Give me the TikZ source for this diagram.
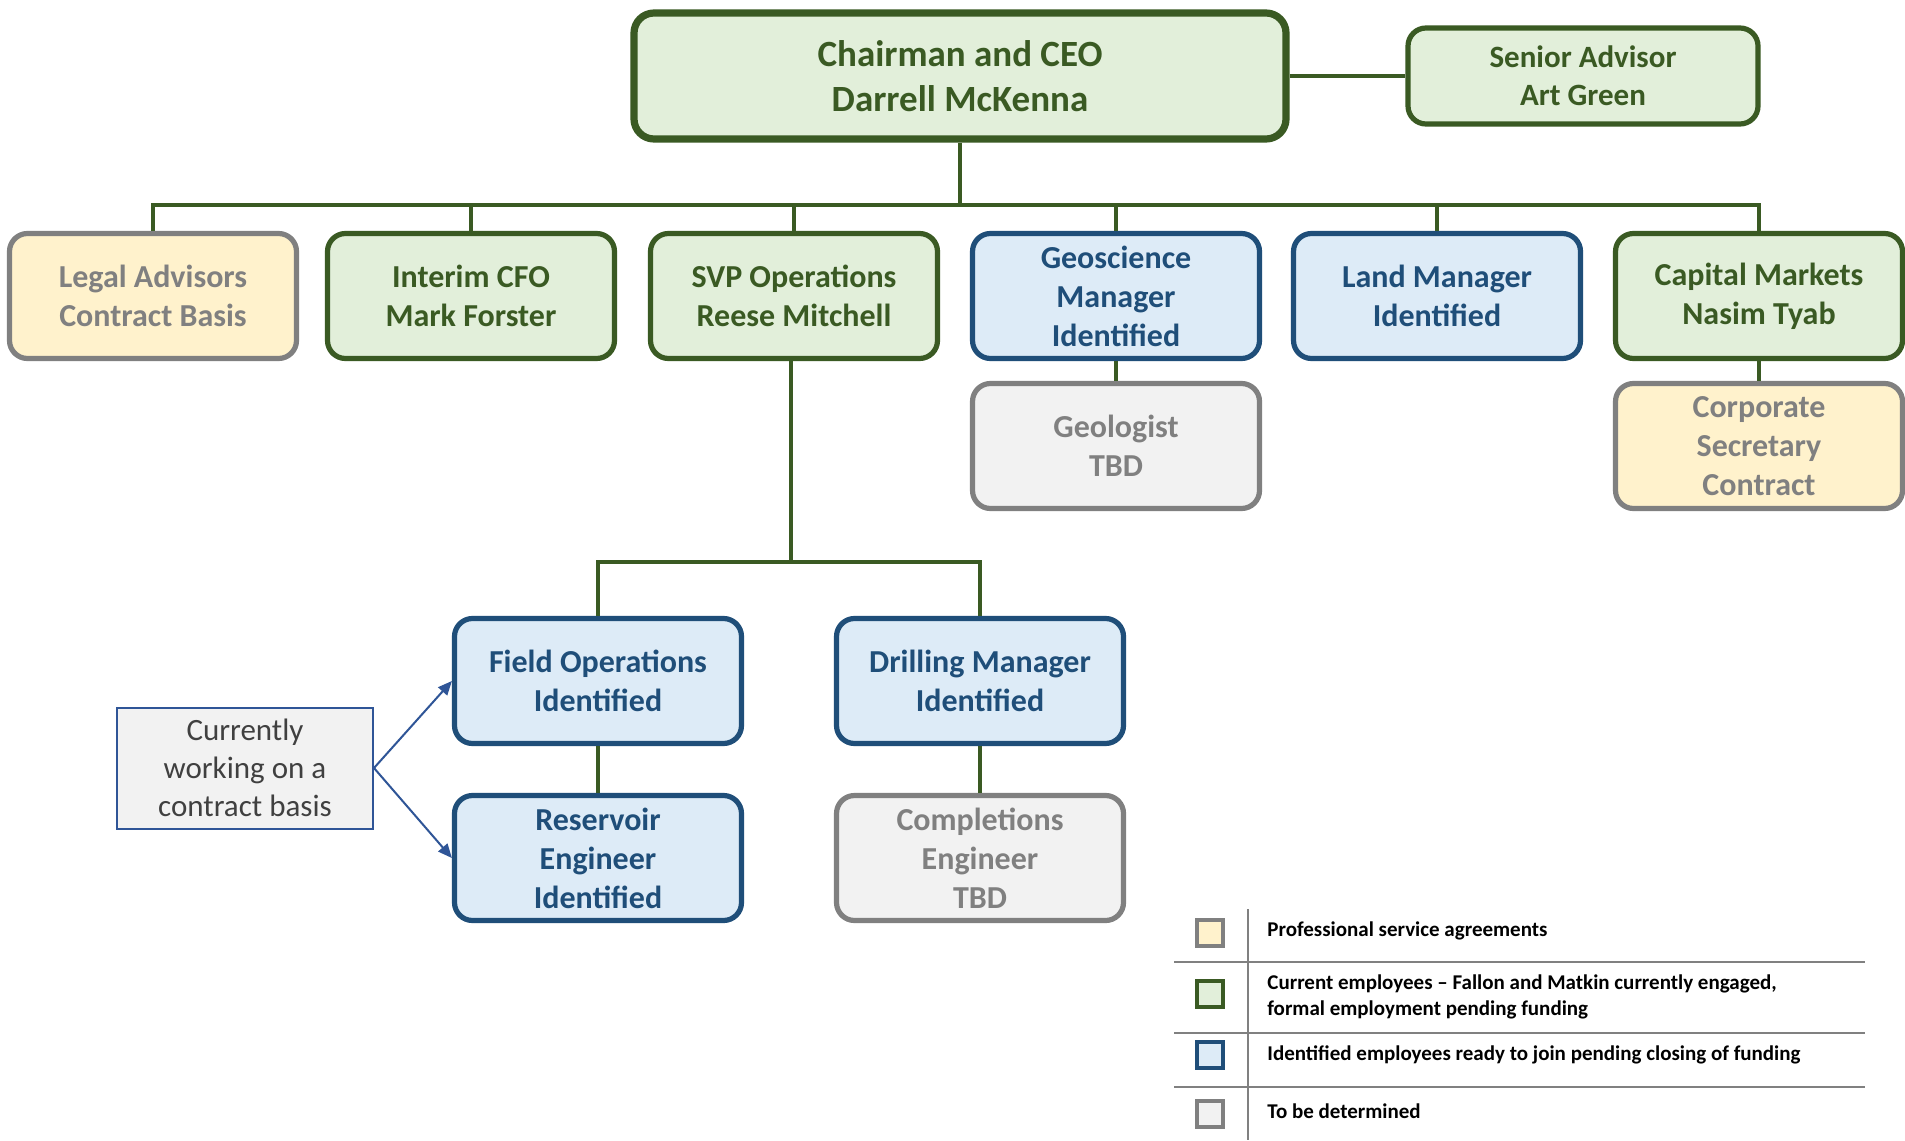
\documentclass[tikz,border=0pt]{standalone}
\usepackage{fontspec}
\setmainfont{Carlito}
\usetikzlibrary{arrows.meta}
\definecolor{gline}{HTML}{3A5A23}
\definecolor{gfill}{HTML}{E2EFDA}
\definecolor{bline}{HTML}{1F4E79}
\definecolor{bfill}{HTML}{DDEBF7}
\definecolor{yfill}{HTML}{FFF2CC}
\definecolor{grline}{HTML}{808080}
\definecolor{grfill}{HTML}{F2F2F2}
\definecolor{nline}{HTML}{2F5597}
\definecolor{ntext}{HTML}{404040}
\tikzset{
  orgbox/.style={rounded corners=9pt, line width=2.6pt, align=center, inner sep=0pt,
    font=\bfseries\fontsize{16}{19.5}\selectfont, minimum width=143.5pt, minimum height=62.5pt},
  gbox/.style={orgbox, draw=gline, fill=gfill, text=gline},
  bbox/.style={orgbox, draw=bline, fill=bfill, text=bline},
  ybox/.style={orgbox, draw=grline, fill=yfill, text=grline},
  tbox/.style={orgbox, draw=grline, fill=grfill, text=grline},
  conn/.style={draw=gline, line width=1.75pt},
  notebox/.style={draw=nline, line width=1pt, fill=grfill, text=ntext, align=center, inner sep=0pt,
    font=\fontsize{15.5}{19}\selectfont, minimum width=128pt, minimum height=60.5pt},
  arr/.style={draw=nline, line width=1pt, -{Triangle[length=7pt,width=6pt]}},
  legsq/.style={minimum size=13pt, line width=2pt, inner sep=0pt},
  legtext/.style={anchor=west, align=left, inner sep=0pt, text=black,
    font=\bfseries\fontsize{10.5}{12.75}\selectfont},
  legline/.style={draw=grline, line width=1.25pt}
}
\begin{document}
\begin{tikzpicture}[x=0.5pt,y=-0.5pt]
\useasboundingbox[fill=white] (0,0) rectangle (1905,1140);

% top
\node[gbox, line width=3.6pt, minimum width=326pt, minimum height=63pt, rounded corners=10pt,
  font=\bfseries\fontsize{18.5}{22.5}\selectfont] (ceo) at (960,76) {Chairman and CEO\\Darrell McKenna};
\node[gbox, minimum width=175pt, minimum height=48pt, font=\bfseries\fontsize{15.5}{19}\selectfont] (adv) at (1583,76) {Senior Advisor\\Art Green};

% row 1
\node[ybox] (legal) at (153,296) {Legal Advisors\\Contract Basis};
\node[gbox] (cfo) at (471,296) {Interim CFO\\Mark Forster};
\node[gbox] (svp) at (794,296) {SVP Operations\\Reese Mitchell};
\node[bbox] (geo) at (1116,296) {Geoscience\\Manager\\Identified};
\node[bbox] (land) at (1437,296) {Land Manager\\Identified};
\node[gbox] (cap) at (1759,296) {Capital Markets\\Nasim Tyab};

% row 2
\node[tbox] (geol) at (1116,446) {Geologist\\TBD};
\node[ybox] (corp) at (1759,446) {Corporate\\Secretary\\Contract};

% rows 3-4
\node[bbox] (field) at (598,681) {Field Operations\\Identified};
\node[bbox] (drill) at (980,681) {Drilling Manager\\Identified};
\node[bbox] (res) at (598,858) {Reservoir\\Engineer\\Identified};
\node[tbox] (comp) at (980,858) {Completions\\Engineer\\TBD};

% note
\node[notebox] (note) at (245,768) {Currently\\working on a\\contract basis};

% connectors
\coordinate (bus) at (960,205);
\coordinate (svpbus) at (791,562);
\draw[conn] (ceo.east) -- (adv.west);
\draw[conn] (ceo.south) -- (bus);
\draw[conn] (legal.north) -- (legal.north |- bus) -- (cap.north |- bus) -- (cap.north);
\draw[conn] (cfo.north) -- (cfo.north |- bus);
\draw[conn] (svp.north) -- (svp.north |- bus);
\draw[conn] (geo.north) -- (geo.north |- bus);
\draw[conn] (land.north) -- (land.north |- bus);
\draw[conn] (geo.south) -- (geol.north);
\draw[conn] (cap.south) -- (corp.north);
\draw[conn] (svp.south -| svpbus) -- (svpbus);
\draw[conn] (field.north) -- (field.north |- svpbus) -- (drill.north |- svpbus) -- (drill.north);
\draw[conn] (field.south) -- (res.north);
\draw[conn] (drill.south) -- (comp.north);

\draw[arr] (note.east) -- (field.west);
\draw[arr] (note.east) -- (res.west);

% legend
\draw[legline] (1248,909) -- (1248,1140);
\draw[legline] (1174,962) -- (1865,962);
\draw[legline] (1174,1033) -- (1865,1033);
\draw[legline] (1174,1087) -- (1865,1087);
\node[legsq, draw=grline, fill=yfill] (l1) at (1210,933) {};
\node[legsq, draw=gline, fill=gfill] (l2) at (1210,994) {};
\node[legsq, draw=bline, fill=bfill] (l3) at (1210,1055) {};
\node[legsq, draw=grline, fill=grfill] (l4) at (1210,1114) {};
\node[legtext] (t1) at (1267,931) {Professional service agreements};
\node[legtext] (t2) at (1267,997) {Current employees – Fallon and Matkin currently engaged,\\formal employment pending funding};
\node[legtext] (t3) at (1267,1055) {Identified employees ready to join pending closing of funding};
\node[legtext] (t4) at (1267,1111) {To be determined};
\end{tikzpicture}
\end{document}
